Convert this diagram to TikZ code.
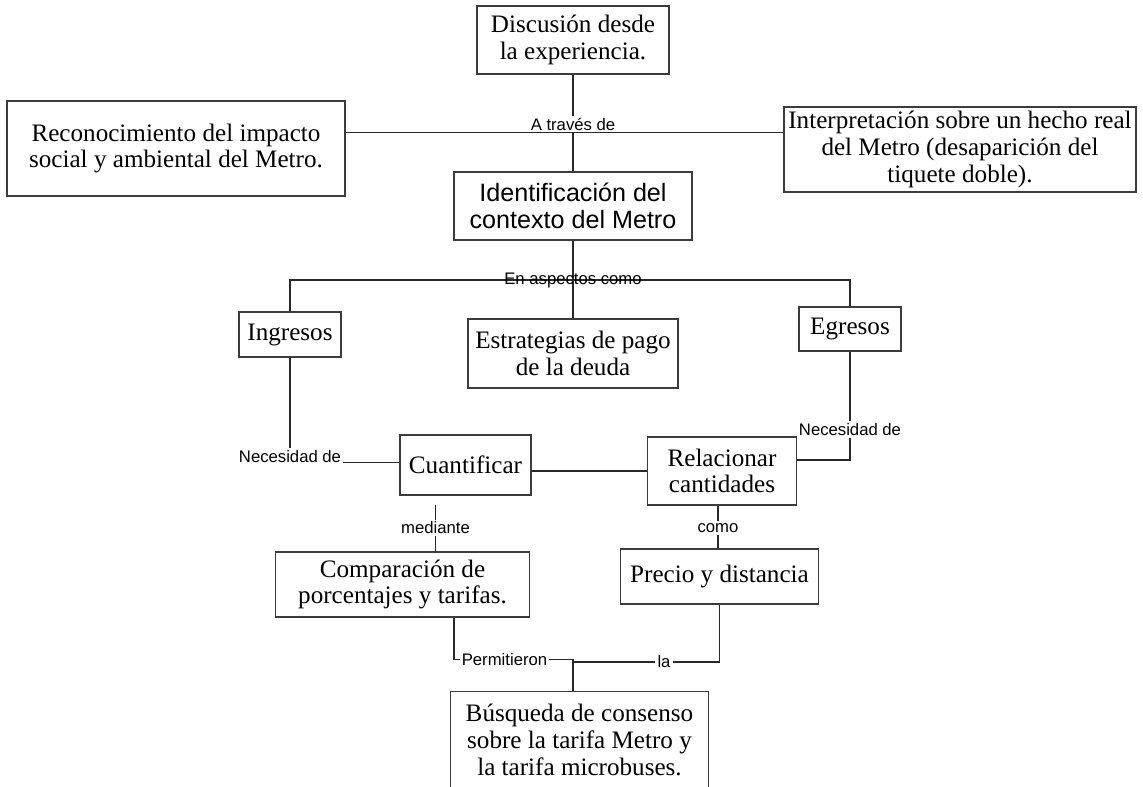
\documentclass[tikz,border=0pt]{standalone}
\usepackage{fontspec}
\setmainfont{Liberation Serif}
\newfontfamily\arialfont{Liberation Sans}
\usetikzlibrary{positioning}
\definecolor{boxgray}{RGB}{60, 60, 60}
\definecolor{linegray}{RGB}{40, 40, 40}

\begin{document}
\begin{tikzpicture}[
    concept/.style={rectangle, draw=boxgray, line width=0.6pt, align=center, inner sep=0pt, font=\fontsize{14.3}{15.2}\selectfont},
    sansconcept/.style={concept, font=\arialfont\fontsize{14.3}{15.2}\selectfont},
    linkword/.style={font=\arialfont\fontsize{9.5}{11}\selectfont, inner sep=1pt},
    connector/.style={draw=linegray, line width=0.6pt}
]
\useasboundingbox (0, 0) rectangle (22.86, -15.74);
\clip (0, 0) rectangle (22.86, -15.74);

% ============ TOP: starting points ============
\node[concept, minimum width=3.84cm, minimum height=1.36cm] (disc) at (11.46, -0.80) {Discusión desde\\la experiencia.};
\node[concept, minimum width=6.76cm, minimum height=1.90cm] (recon) at (3.52, -2.97) {Reconocimiento del impacto\\social y ambiental del Metro.};
\node[concept, minimum width=7.04cm, minimum height=1.70cm] (interp) at (19.20, -2.99) {Interpretación sobre un hecho real\\del Metro (desaparición del\\tiquete doble).};
\node[sansconcept, minimum width=4.76cm, minimum height=1.36cm] (ident) at (11.46, -4.12) {Identificación del\\contexto del Metro};

\coordinate (hub1) at (11.46, -2.65);
\coordinate (hub2) at (11.46, -5.60);

\node[linkword, anchor=south] (atraves) at (hub1) {A través de};

% Arrows
\draw[connector] (disc) -- (atraves);
\draw[connector] (hub1) -- (ident);
\draw[connector] (recon.east |- hub1) -- (interp.west |- hub1);

% ============ MIDDLE: aspects ============
\node[concept, minimum width=2.04cm, minimum height=0.90cm] (ingr) at (5.80, -6.69) {Ingresos};
\node[concept, minimum width=4.20cm, minimum height=1.38cm] (estr) at (11.46, -7.07) {Estrategias de pago\\de la deuda};
\node[concept, minimum width=2.04cm, minimum height=0.88cm] (egr) at (17.00, -6.58) {Egresos};

\draw[connector] (ident) -- (estr);
\draw[connector] (ingr.north) |- (hub2) -| (egr.north);
\node[linkword, anchor=mid] (aspectos) at (hub2) {En aspectos como};

% Needs
\node[concept, minimum width=2.62cm, minimum height=1.20cm] (cuant) at (9.31, -9.30) {Cuantificar};
\node[concept, minimum width=2.99cm, minimum height=1.36cm] (relac) at (14.44, -9.42) {Relacionar\\cantidades};

\node[linkword, anchor=base] (nec1) at (5.80, -9.254) {Necesidad de};
\node[linkword] (nec2) at (17.00, -8.59) {Necesidad de};
\coordinate (c3) at (17.00, -9.20);

\draw[connector] (ingr) -- (nec1);
\draw[connector] (nec1.base east) -- (nec1.base east -| cuant.west);
\draw[connector] (relac.west -| cuant.east) -- (relac.west);
\draw[connector] (egr) -- (nec2);
\draw[connector] (nec2) -- (c3) -- (c3 -| relac.east);

% ============ LOWER: means ============
\node[concept, minimum width=5.09cm, minimum height=1.30cm] (comp) at (8.05, -11.69) {Comparación de\\porcentajes y tarifas.};
\node[concept, minimum width=3.95cm, minimum height=1.10cm] (precio) at (14.39, -11.53) {Precio y distancia};

\node[linkword] (mediante) at (8.71, -10.56) {mediante};
\coordinate (medtop) at (8.71, -10.10);
\node[linkword] (como) at (14.36, -10.56) {como};

\draw[connector] (medtop) -- (mediante);
\draw[connector] (mediante) -- (mediante |- comp.north);
\draw[connector] (como |- relac.south) -- (como);
\draw[connector] (como) -- (como |- precio.north);

% ============ BOTTOM: result ============
\node[concept, minimum width=5.15cm, minimum height=1.93cm] (busq) at (11.59, -14.80) {Búsqueda de consenso\\sobre la tarifa Metro y\\la tarifa microbuses.};

\coordinate (pc) at (9.08, -13.19);
\coordinate (j) at (11.46, -13.19);
\node[linkword] (permit) at (10.09, -13.19) {Permitieron};
\node[linkword] (la) at (13.28, -13.24) {la};

\draw[connector] (pc |- comp.south) -- (pc) -- (permit);
\draw[connector] (permit) -- (j) -- (j |- busq.north);
\draw[connector] (precio.south) |- (la);
\draw[connector] (la) -- (la.west -| j);

\end{tikzpicture}
\end{document}
